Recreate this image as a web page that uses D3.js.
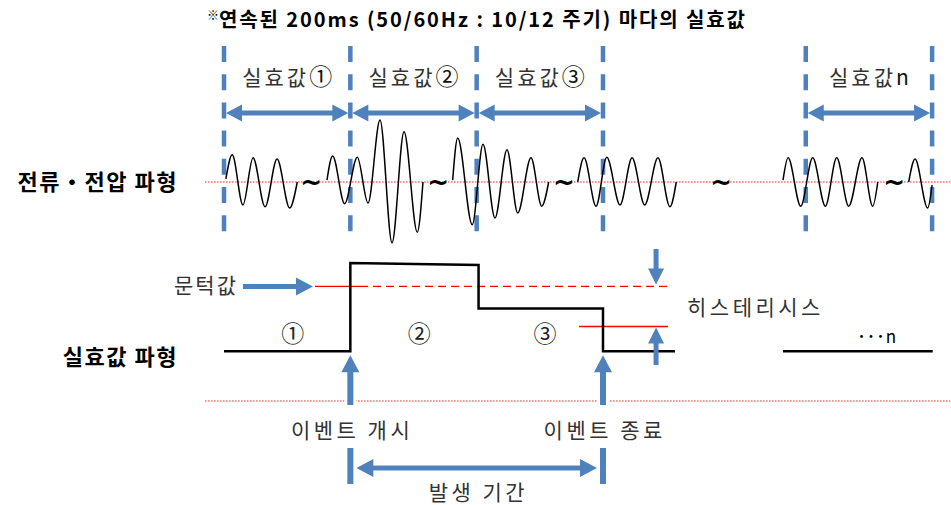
<!DOCTYPE html>
<html>
<head>
<meta charset="utf-8">
<script src="https://cdn.jsdelivr.net/npm/d3@7"></script>
<style>
body { margin: 0; background: #fff; }
svg { display: block; font-family: "Noto Sans CJK KR", "Noto Sans", sans-serif; }
</style>
</head>
<body>
<svg id="chart" width="951" height="505"></svg>
<script>
// time axis in ms, one RMS window = 200 ms
const windowEdges = [0, 200, 400, 600, 921, 1121];
const windowSpans = [[0, 200], [200, 400], [400, 600], [921, 1121]];
const windowLabels = ["실효값①", "실효값②", "실효값③", "실효값n"];

// current / voltage wave, extrema as [ms, amplitude]
const wave1 = [[3, 0.05], [13, 0.44], [30, -0.37], [46, 0.39], [65, -0.40], [84, 0.37], [104, -0.42], [116, 0]];
const wave2 = [[163, 0.03], [172, 0.42], [191, -0.35], [211, 0.40], [228, -0.34], [247, 1.0], [266, -0.98], [285, 0.81], [306, -0.81], [315, 0]];
const wave3 = [[362, 0.03], [370, 0.71], [393, -0.69], [410, 0.61], [429, -0.58], [448, 0.52], [465, -0.50], [486, 0.39], [503, -0.39], [514, 0]];
const wave4 = [[560, 0], [570, 0.39], [589, -0.39], [606, 0.40], [627, -0.37], [646, 0.39], [666, -0.37], [687, 0.39], [706, -0.40], [716, 0]];
const wave5 = [[885, 0.03], [893, 0.39], [913, -0.39], [932, 0.39], [952, -0.39], [970, 0.39], [989, -0.39], [1010, 0.39], [1027, -0.39], [1035, 0]];
const wave6 = [[1084, 0], [1094, 0.37], [1114, -0.42], [1121, -0.05]];
const waves = [wave1, wave2, wave3, wave4, wave5, wave6];
const tildes = [138, 339, 538, 787, 1061];

// RMS waveform [ms, level]
const rmsStep = [[0, 0.36], [200, 0.36], [200, 1.0], [403, 0.985], [403, 0.67], [600, 0.67], [600, 0.36], [714, 0.36]];
const rmsTail = [[885, 0.36], [1122, 0.36]];
const rmsMarks = [["①", 109], ["②", 309], ["③", 508]];
const rmsMoreMark = ["･･･n", 1034];
const threshold = 0.83;
const thresholdSolid = [144, 228];
const thresholdDashed = [228, 703];
const hysteresis = 0.54;
const hysteresisSpan = [562, 703];
const eventStart = 200, eventEnd = 600;

const blue = "#4f81bd";
const labelGray = "#333";
const svg = d3.select("#chart");

const x = d3.scaleLinear().domain([0, 600]).range([224, 603]);
const yWave = d3.scaleLinear().domain([-1, 1]).range([244, 120]);
const yRms = d3.scaleLinear().domain([0, 1]).range([401, 263]);

// block arrow as polygon
function arrow(x1, y1, x2, y2, w, hl, hw, both) {
  const L = Math.hypot(x2 - x1, y2 - y1), ux = (x2 - x1) / L, uy = (y2 - y1) / L;
  const P = (s, t) => [x1 + ux * s - uy * t, y1 + uy * s + ux * t];
  let pts;
  if (both) {
    pts = [P(0, 0), P(hl, hw), P(hl, w / 2), P(L - hl, w / 2), P(L - hl, hw), P(L, 0),
           P(L - hl, -hw), P(L - hl, -w / 2), P(hl, -w / 2), P(hl, -hw)];
  } else {
    pts = [P(0, w / 2), P(L - hl, w / 2), P(L - hl, hw), P(L, 0), P(L - hl, -hw), P(L - hl, -w / 2), P(0, -w / 2)];
  }
  return d3.line()(pts) + "Z";
}

// spaced gray label (letter-spacing adds a trailing gap, so shift by half of it when centred)
function label(tx, ty, str, anchor, ls) {
  const shift = anchor === "middle" ? ls / 2 : anchor === "end" ? ls : 0;
  return svg.append("text")
    .attr("x", tx + shift).attr("y", ty).attr("text-anchor", anchor)
    .attr("font-size", 21).attr("letter-spacing", ls).attr("fill", labelGray).text(str);
}

// title
const title = svg.append("text")
  .attr("x", 207).attr("y", 27)
  .attr("font-size", 20).attr("font-weight", "bold").attr("fill", "#000");
title.append("tspan").attr("font-size", 12).attr("dy", -7).text("※");
title.append("tspan").attr("dy", 7).attr("textLength", 526).attr("lengthAdjust", "spacing")
  .text("연속된 200ms (50/60Hz  :  10/12 주기) 마다의 실효값");

// reference dotted lines
[yWave(0), yRms(0)].forEach(yy => {
  svg.append("line")
    .attr("x1", x(-30)).attr("x2", x(1150)).attr("y1", yy).attr("y2", yy)
    .attr("stroke", "#ff2020").attr("stroke-width", 1.2).attr("stroke-dasharray", "1.5,1.5");
});

// window boundaries
svg.selectAll(".edge").data(windowEdges).enter().append("line")
  .attr("x1", d => x(d)).attr("x2", d => x(d))
  .attr("y1", 46).attr("y2", 233)
  .attr("stroke", blue).attr("stroke-width", 4.5).attr("stroke-dasharray", "16,12.2");

svg.selectAll(".warrow").data(windowSpans).enter().append("path")
  .attr("d", d => arrow(x(d[0]) + 2, 113, x(d[1]) - 2, 113, 5, 16, 8.5, true))
  .attr("fill", blue);

windowSpans.forEach((d, i) => {
  const t = label((x(d[0]) + x(d[1])) / 2, 85, "", "middle", 3);
  const s = windowLabels[i];
  t.append("tspan").text(s.slice(0, 3));
  t.append("tspan").attr("font-size", s.endsWith("n") ? 21 : 23).attr("fill", "#111").text(s.slice(3));
});

// waves
const waveLine = d3.line().x(d => x(d[0])).y(d => yWave(d[1])).curve(d3.curveMonotoneX);
svg.selectAll(".wave").data(waves).enter().append("path")
  .attr("d", waveLine).attr("fill", "none").attr("stroke", "#000").attr("stroke-width", 1.5);

svg.selectAll(".tilde").data(tildes).enter().append("text")
  .attr("x", d => x(d)).attr("y", yWave(0) + 9)
  .attr("text-anchor", "middle").attr("font-size", 26).attr("font-weight", "bold")
  .attr("font-family", "DejaVu Sans").attr("fill", "#000").text("~");

// row labels
svg.append("text").attr("x", 178).attr("y", yWave(0) + 8).attr("text-anchor", "end")
  .attr("font-size", 22).attr("font-weight", "bold").attr("letter-spacing", 1.5).attr("fill", "#000")
  .text("전류・전압 파형");
svg.append("text").attr("x", 178).attr("y", 365).attr("text-anchor", "end")
  .attr("font-size", 22).attr("font-weight", "bold").attr("letter-spacing", 1.5).attr("fill", "#000")
  .text("실효값 파형");

// threshold and hysteresis
svg.append("line")
  .attr("x1", x(thresholdSolid[0])).attr("x2", x(thresholdSolid[1]))
  .attr("y1", yRms(threshold)).attr("y2", yRms(threshold))
  .attr("stroke", "#ff0000").attr("stroke-width", 1.3);
svg.append("line")
  .attr("x1", x(thresholdDashed[0]) + 5).attr("x2", x(thresholdDashed[1]))
  .attr("y1", yRms(threshold)).attr("y2", yRms(threshold))
  .attr("stroke", "#ff0000").attr("stroke-width", 1.3).attr("stroke-dasharray", "8,5");
svg.append("line")
  .attr("x1", x(hysteresisSpan[0])).attr("x2", x(hysteresisSpan[1]))
  .attr("y1", yRms(hysteresis)).attr("y2", yRms(hysteresis))
  .attr("stroke", "#ff0000").attr("stroke-width", 1.3);

// RMS step line
const rmsLine = d3.line().x(d => x(d[0])).y(d => yRms(d[1]));
svg.selectAll(".rms").data([rmsStep, rmsTail]).enter().append("path")
  .attr("d", rmsLine).attr("fill", "none").attr("stroke", "#000").attr("stroke-width", 2.5);

svg.selectAll(".rmark").data(rmsMarks).enter().append("text")
  .attr("x", d => x(d[1])).attr("y", 342)
  .attr("text-anchor", "middle").attr("font-size", 23)
  .attr("fill", "#222").text(d => d[0]);
svg.append("text").attr("x", x(rmsMoreMark[1])).attr("y", 343)
  .attr("text-anchor", "middle").attr("font-size", 17).attr("letter-spacing", 1)
  .attr("fill", "#000").text(rmsMoreMark[0]);

// threshold arrow + label
const thY = yRms(threshold);
svg.append("path").attr("d", arrow(243, thY, x(thresholdSolid[0]) - 2, thY, 5, 17, 9, false)).attr("fill", blue);
label(236, thY + 7, "문턱값", "end", 2);

// hysteresis arrows + label
const hx = x(hysteresisSpan[1]) - 12;
svg.append("path").attr("d", arrow(hx, 249, hx, thY - 2, 5, 16, 8, false)).attr("fill", blue);
svg.append("path").attr("d", arrow(hx, 365, hx, yRms(hysteresis) + 1, 5, 16, 8, false)).attr("fill", blue);
label(687, 315, "히스테리시스", "start", 3.5);

// event arrows
[eventStart, eventEnd].forEach(t => {
  svg.append("line").attr("x1", x(t)).attr("x2", x(t)).attr("y1", 396).attr("y2", 406)
    .attr("stroke", "#fff").attr("stroke-width", 12);
  svg.append("path").attr("d", arrow(x(t), 405, x(t), yRms(0.36) + 4, 6, 17, 9, false)).attr("fill", blue);
  svg.append("line").attr("x1", x(t)).attr("x2", x(t)).attr("y1", 448).attr("y2", 484)
    .attr("stroke", blue).attr("stroke-width", 6);
});
label(x(eventStart), 438, "이벤트 개시", "middle", 3.5);
label(x(eventEnd), 438, "이벤트 종료", "middle", 3.5);

svg.append("path").attr("d", arrow(x(eventStart) + 6, 468, x(eventEnd) - 6, 468, 5, 17, 9, true)).attr("fill", blue);
label((x(eventStart) + x(eventEnd)) / 2, 500, "발생 기간", "middle", 3.5);
</script>
</body>
</html>
